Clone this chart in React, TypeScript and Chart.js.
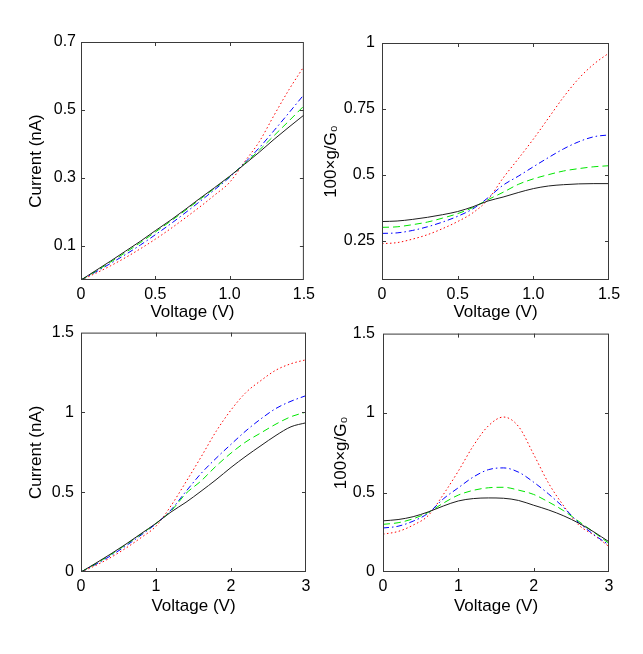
import { useEffect, useRef } from 'react'
import { Chart, registerables } from 'chart.js'

Chart.register(...registerables)

Chart.defaults.font.family = '"Liberation Sans", Arial, sans-serif'
Chart.defaults.color = '#000'

// bias points
const voltageLow = [0, 0.1, 0.2, 0.3, 0.4, 0.5, 0.6, 0.7, 0.8, 0.9, 1.0, 1.1, 1.2, 1.3, 1.4, 1.5]
const voltageHigh = [0, 0.2, 0.4, 0.6, 0.8, 1.0, 1.2, 1.4, 1.6, 1.8, 2.0, 2.2, 2.4, 2.6, 2.8, 3.0]

// current (nA), 0 - 1.5 V
const currentLowBlack = [0, 0.028, 0.056, 0.085, 0.114, 0.145, 0.175, 0.207, 0.24, 0.272, 0.305, 0.34, 0.376, 0.414, 0.45, 0.485]
const currentLowGreen = [0, 0.026, 0.053, 0.081, 0.11, 0.141, 0.172, 0.204, 0.237, 0.27, 0.304, 0.342, 0.382, 0.425, 0.468, 0.512]
const currentLowBlue = [0, 0.024, 0.049, 0.075, 0.103, 0.133, 0.164, 0.197, 0.231, 0.266, 0.302, 0.344, 0.389, 0.44, 0.492, 0.545]
const currentLowRed = [0, 0.02, 0.042, 0.066, 0.092, 0.12, 0.15, 0.182, 0.215, 0.25, 0.287, 0.347, 0.407, 0.485, 0.56, 0.628]

// conductance (100 g/G0), 0 - 1.5 V
const condLowBlack = [0.322, 0.324, 0.33, 0.338, 0.348, 0.36, 0.378, 0.4, 0.415, 0.432, 0.447, 0.457, 0.462, 0.465, 0.466, 0.466]
const condLowGreen = [0.3, 0.302, 0.31, 0.32, 0.335, 0.352, 0.375, 0.405, 0.433, 0.463, 0.484, 0.5, 0.514, 0.523, 0.53, 0.534]
const condLowBlue = [0.277, 0.279, 0.288, 0.302, 0.32, 0.342, 0.37, 0.412, 0.46, 0.494, 0.53, 0.565, 0.598, 0.625, 0.644, 0.651]
const condLowRed = [0.238, 0.242, 0.255, 0.272, 0.295, 0.322, 0.355, 0.405, 0.487, 0.56, 0.635, 0.715, 0.795, 0.865, 0.92, 0.962]

// current (nA), 0 - 3 V
const currentHighBlack = [0, 0.056, 0.114, 0.175, 0.24, 0.305, 0.376, 0.437, 0.506, 0.578, 0.655, 0.726, 0.792, 0.856, 0.91, 0.935]
const currentHighGreen = [0, 0.053, 0.11, 0.172, 0.237, 0.304, 0.382, 0.492, 0.57, 0.663, 0.745, 0.816, 0.872, 0.927, 0.973, 1.002]
const currentHighBlue = [0, 0.049, 0.103, 0.164, 0.231, 0.302, 0.389, 0.505, 0.617, 0.712, 0.8, 0.885, 0.96, 1.025, 1.07, 1.105]
const currentHighRed = [0, 0.042, 0.092, 0.15, 0.215, 0.287, 0.415, 0.565, 0.72, 0.88, 1.015, 1.125, 1.2, 1.265, 1.305, 1.33]

// conductance (100 g/G0), 0 - 3 V
const condHighBlack = [0.322, 0.33, 0.348, 0.378, 0.415, 0.447, 0.462, 0.466, 0.464, 0.45, 0.42, 0.39, 0.353, 0.307, 0.252, 0.19]
const condHighGreen = [0.3, 0.31, 0.335, 0.375, 0.433, 0.484, 0.514, 0.53, 0.533, 0.515, 0.488, 0.44, 0.385, 0.318, 0.25, 0.18]
const condHighBlue = [0.277, 0.288, 0.32, 0.37, 0.46, 0.53, 0.598, 0.644, 0.655, 0.628, 0.565, 0.49, 0.405, 0.31, 0.235, 0.17]
const condHighRed = [0.238, 0.255, 0.295, 0.355, 0.487, 0.635, 0.795, 0.92, 0.975, 0.915, 0.74, 0.557, 0.415, 0.295, 0.232, 0.16]

// axis ticks
const xTicksLow = [0, 0.5, 1, 1.5]
const xLabelsLow = ['0', '0.5', '1.0', '1.5']
const xTicksHigh = [0, 1, 2, 3]
const xLabelsHigh = ['0', '1', '2', '3']
const currentTicksLow = [0.1, 0.3, 0.5, 0.7]
const currentLabelsLow = ['0.1', '0.3', '0.5', '0.7']
const condTicksLow = [0.25, 0.5, 0.75, 1]
const condLabelsLow = ['0.25', '0.5', '0.75', '1']
const ticksHighY = [0, 0.5, 1, 1.5]
const labelsHighY = ['0', '0.5', '1', '1.5']

const lineStyles = [
  { color: '#1e1e1e', dash: [] as number[] },
  { color: '#00e600', dash: [7, 4] },
  { color: '#0000ff', dash: [6, 3, 1.5, 3] },
  { color: '#ff0000', dash: [1.5, 2.5] },
]

// box round the plot with inward ticks on all four sides
const framePlugin = {
  id: 'frame',
  afterDraw(chart: Chart) {
    const { ctx, chartArea: a } = chart
    const xs = chart.scales.x
    const ys = chart.scales.y
    ctx.save()
    ctx.strokeStyle = '#3a3a3a'
    ctx.lineWidth = 1
    ctx.strokeRect(a.left + 0.5, a.top + 0.5, a.right - a.left - 1, a.bottom - a.top - 1)
    ctx.beginPath()
    for (const t of xs.ticks) {
      const px = Math.round(xs.getPixelForValue(t.value)) + 0.5
      if (px <= a.left + 2 || px >= a.right - 2) continue
      ctx.moveTo(px, a.bottom)
      ctx.lineTo(px, a.bottom - 4)
      ctx.moveTo(px, a.top)
      ctx.lineTo(px, a.top + 4)
    }
    for (const t of ys.ticks) {
      const py = Math.round(ys.getPixelForValue(t.value)) + 0.5
      if (py <= a.top + 2 || py >= a.bottom - 2) continue
      ctx.moveTo(a.left, py)
      ctx.lineTo(a.left + 4, py)
      ctx.moveTo(a.right, py)
      ctx.lineTo(a.right - 4, py)
    }
    ctx.stroke()
    ctx.restore()
  },
}

type PanelProps = {
  left: number
  top: number
  width: number
  height: number
  padTop: number
  padRight: number
  padBottom: number
  yAxisWidth: number
  voltage: number[]
  series: number[][]
  xMax: number
  xTicks: number[]
  xLabels: string[]
  yMin: number
  yMax: number
  yTicks: number[]
  yLabels: string[]
  yTitle: string
  yTitlePad: number
  yTickPad: number
  xTitlePad: number
}

function Panel(p: PanelProps) {
  const canvasRef = useRef<HTMLCanvasElement>(null)
  const chartRef = useRef<Chart | null>(null)

  useEffect(() => {
    if (!canvasRef.current) return
    if (chartRef.current) chartRef.current.destroy()

    const datasets = p.series.map((values, i) => ({
      data: values.map((y, j) => ({ x: p.voltage[j], y })),
      borderColor: lineStyles[i].color,
      borderDash: lineStyles[i].dash,
      borderWidth: 1,
      pointRadius: 0,
      fill: false,
      cubicInterpolationMode: 'monotone' as const,
    }))

    chartRef.current = new Chart(canvasRef.current, {
      type: 'line',
      data: { datasets },
      options: {
        animation: false,
        responsive: false,
        events: [],
        layout: { padding: { left: 0, top: p.padTop, right: p.padRight, bottom: p.padBottom } },
        plugins: { legend: { display: false }, tooltip: { enabled: false } },
        scales: {
          x: {
            type: 'linear',
            min: 0,
            max: p.xMax,
            afterBuildTicks: (s) => {
              s.ticks = p.xTicks.map((value) => ({ value }))
            },
            afterFit: (s) => {
              s.height = 50
            },
            grid: { display: false, drawTicks: false },
            border: { display: false },
            ticks: {
              autoSkip: false,
              maxRotation: 0,
              padding: 5,
              font: { size: 16 },
              color: '#000',
              callback: (_v, i) => p.xLabels[i],
            },
            title: {
              display: true,
              text: 'Voltage (V)',
              font: { size: 17 },
              color: '#000',
              padding: { top: 0, bottom: p.xTitlePad },
            },
          },
          y: {
            type: 'linear',
            min: p.yMin,
            max: p.yMax,
            afterBuildTicks: (s) => {
              s.ticks = p.yTicks.map((value) => ({ value }))
            },
            afterFit: (s) => {
              s.width = p.yAxisWidth
            },
            grid: { display: false, drawTicks: false },
            border: { display: false },
            ticks: {
              autoSkip: false,
              padding: p.yTickPad,
              font: { size: 16 },
              color: '#000',
              callback: (_v, i) => p.yLabels[i],
            },
            title: {
              display: true,
              text: p.yTitle,
              font: { size: 17 },
              color: '#000',
              padding: { top: p.yTitlePad, bottom: 0 },
            },
          },
        },
      },
      plugins: [framePlugin],
    })

    return () => {
      if (chartRef.current) {
        chartRef.current.destroy()
        chartRef.current = null
      }
    }
  }, [])

  return (
    <canvas
      ref={canvasRef}
      width={p.width}
      height={p.height}
      style={{ position: 'absolute', left: p.left, top: p.top, width: p.width, height: p.height }}
    />
  )
}

export default function App() {
  return (
    <div style={{ position: 'absolute', left: 0, top: 0, width: 643, height: 654, background: '#fff', overflow: 'hidden' }}>
      <Panel
        left={0} top={0} width={320} height={330}
        padTop={42} padRight={15} padBottom={0} yAxisWidth={81}
        voltage={voltageLow}
        series={[currentLowBlack, currentLowGreen, currentLowBlue, currentLowRed]}
        xMax={1.5} xTicks={xTicksLow} xLabels={xLabelsLow}
        yMin={0} yMax={0.7} yTicks={currentTicksLow} yLabels={currentLabelsLow}
        yTitle="Current (nA)" yTitlePad={26} yTickPad={5} xTitlePad={7}
      />
      <Panel
        left={320} top={0} width={323} height={330}
        padTop={43} padRight={34} padBottom={0} yAxisWidth={62}
        voltage={voltageLow}
        series={[condLowBlack, condLowGreen, condLowBlue, condLowRed]}
        xMax={1.5} xTicks={xTicksLow} xLabels={xLabelsLow}
        yMin={0.1} yMax={1} yTicks={condTicksLow} yLabels={condLabelsLow}
        yTitle="100×g/G₀" yTitlePad={1} yTickPad={7} xTitlePad={7}
      />
      <Panel
        left={0} top={316} width={320} height={338}
        padTop={16} padRight={14} padBottom={32} yAxisWidth={81}
        voltage={voltageHigh}
        series={[currentHighBlack, currentHighGreen, currentHighBlue, currentHighRed]}
        xMax={3} xTicks={xTicksHigh} xLabels={xLabelsHigh}
        yMin={0} yMax={1.5} yTicks={ticksHighY} yLabels={labelsHighY}
        yTitle="Current (nA)" yTitlePad={26} yTickPad={7} xTitlePad={5}
      />
      <Panel
        left={320} top={316} width={323} height={338}
        padTop={17} padRight={34} padBottom={32} yAxisWidth={63}
        voltage={voltageHigh}
        series={[condHighBlack, condHighGreen, condHighBlue, condHighRed]}
        xMax={3} xTicks={xTicksHigh} xLabels={xLabelsHigh}
        yMin={0} yMax={1.5} yTicks={ticksHighY} yLabels={labelsHighY}
        yTitle="100×g/G₀" yTitlePad={11} yTickPad={8} xTitlePad={5}
      />
    </div>
  )
}
